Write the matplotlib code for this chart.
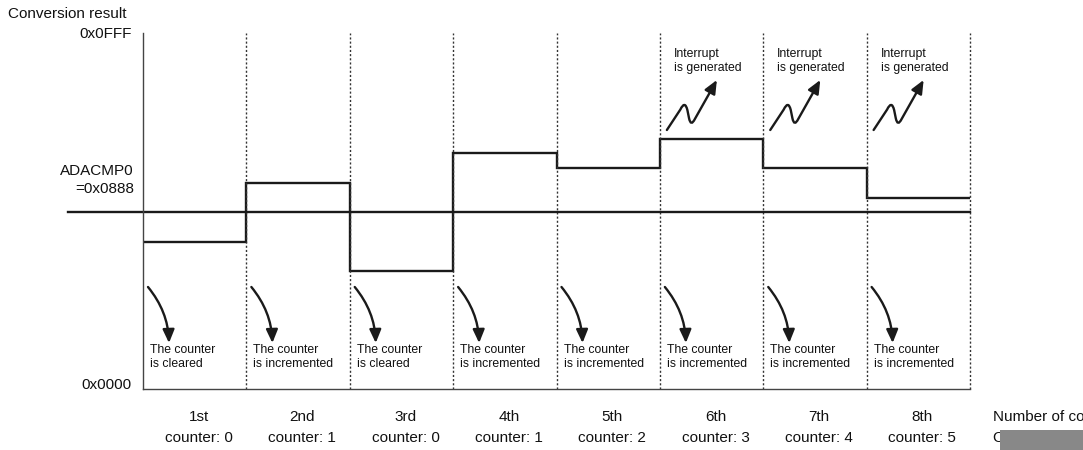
import numpy as np
import matplotlib.pyplot as plt
from matplotlib.patches import FancyArrowPatch, Rectangle
from matplotlib.path import Path

plt.rcParams['font.family'] = ['Liberation Sans', 'DejaVu Sans']

# conversion index labels and counter value after each conversion
ordinals = ['1st', '2nd', '3rd', '4th', '5th', '6th', '7th', '8th']
counter = [0, 1, 0, 1, 2, 3, 4, 5]
# conversion results (schematic levels)
results = [1700, 2383, 1365, 2730, 2557, 2892, 2557, 2209]
adacmp0 = 2047
actions = ['cleared', 'incremented', 'cleared', 'incremented',
           'incremented', 'incremented', 'incremented', 'incremented']
interrupt = [False, False, False, False, False, True, True, True]
y_ticks = [0, 4095]
y_labels = ['0x0000', '0x0FFF']

W, H = 1083, 450
fig = plt.figure(figsize=(W / 100, H / 100), dpi=100)
ax = fig.add_axes([143 / W, (H - 389) / H, 827 / W, 356 / H])

XS = 827 / 8          # pixels per conversion
YS = 4095 / 354       # value units per pixel
ax.set_xlim(0, 8)
ax.set_ylim(0, 4095 + 2 * YS)

def py(p):
    # pixel row -> data y
    return (389 - p) * YS

for s in ['top', 'right']:
    ax.spines[s].set_visible(False)
for s in ['left', 'bottom']:
    ax.spines[s].set_color('#444444')
    ax.spines[s].set_linewidth(1.0)
ax.set_xticks([])
ax.set_yticks([])

ink = '#1a1a1a'
head = '-|>,head_length=0.8,head_width=0.35'

# dotted boundaries between conversions
for i in range(1, 9):
    ax.axvline(i, color='#333333', lw=1.0, ls=(0, (1.5, 1.5)), clip_on=False)

# conversion result steps
ax.stairs(results, np.arange(len(results) + 1), baseline=None, color=ink, lw=1.7)

# comparison level
ax.plot([-75 / XS, 8], [adacmp0, adacmp0], color=ink, lw=1.7, clip_on=False)
ax.text(-9 / XS, py(171), 'ADACMP0', ha='right', va='center', fontsize=11, color='#111111')
ax.text(-9 / XS, py(189), '=0x0888', ha='right', va='center', fontsize=11, color='#111111')

# y axis labels
for v, lab, off in zip(y_ticks, y_labels, [4, 1]):
    ax.text(-11 / XS, v + off * YS, lab, ha='right', va='center', fontsize=11, color='#111111')

fig.text(8 / W, 1 - 14 / H, 'Conversion result', ha='left', va='center', fontsize=11, color='#111111')

for i in range(len(results)):
    # counter action arrows
    arr = FancyArrowPatch((i + 5 / XS, py(287)), (i + 26 / XS, py(343)),
                          connectionstyle='arc3,rad=-0.17',
                          arrowstyle=head, mutation_scale=10, lw=1.7, color=ink,
                          shrinkA=0, shrinkB=0)
    ax.add_patch(arr)
    ax.text(i + 7 / XS, py(357), 'The counter\nis ' + actions[i], ha='left', va='center',
            fontsize=8.8, linespacing=1.3, color='#111111')

    # x labels
    ax.text(i + 0.5 + 4 / XS, py(417), ordinals[i], ha='center', va='center',
            fontsize=11, color='#111111', clip_on=False)
    ax.text(i + 0.5 + 4 / XS, py(438), 'counter: %d' % counter[i], ha='center', va='center',
            fontsize=11, color='#111111', clip_on=False)

    if interrupt[i]:
        pts = [(7, 130), (20.5, 109.5), (25, 100), (27.5, 110),
               (29.2, 118.4), (31, 127), (35, 119), (57, 80)]
        verts = [(i + x / XS, py(y)) for x, y in pts]
        codes = [Path.MOVETO, Path.LINETO, Path.CURVE3, Path.CURVE3,
                 Path.LINETO, Path.CURVE3, Path.CURVE3, Path.LINETO]
        sq = FancyArrowPatch(path=Path(verts, codes), arrowstyle=head,
                             mutation_scale=10, lw=1.7, color=ink)
        ax.add_patch(sq)
        ax.text(i + 14 / XS, py(61), 'Interrupt\nis generated', ha='left', va='center',
                fontsize=8.8, linespacing=1.3, color='#111111')

# axis title on the right runs off the edge, as in the source figure
fig.text(993 / W, 1 - 417 / H, 'Number of conversions', ha='left', va='center', fontsize=11, color='#111111')
fig.text(993 / W, 1 - 438 / H, 'Counter value', ha='left', va='center', fontsize=11, color='#111111')
fig.add_artist(Rectangle((1000 / W, 0), 83 / W, 20 / H, transform=fig.transFigure,
                         facecolor='#888888', edgecolor='none', zorder=10))

fig.savefig('out.png', dpi=100)
